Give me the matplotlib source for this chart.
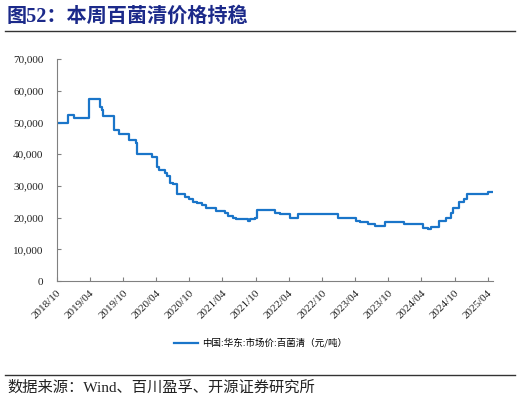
import matplotlib
matplotlib.use('Agg')
import matplotlib.pyplot as plt
import matplotlib.ticker as mticker
import pandas as pd

# Step-change dates and prices (元/吨)
dates = [
    '2018-10-01', '2018-12-01', '2019-01-07', '2019-03-28', '2019-05-26',
    '2019-06-07', '2019-06-14', '2019-08-13', '2019-09-07', '2019-11-01',
    '2019-12-12', '2019-12-15', '2020-03-10', '2020-04-07', '2020-04-16',
    '2020-05-19', '2020-06-01', '2020-06-16', '2020-07-01', '2020-07-26',
    '2020-09-07', '2020-10-01', '2020-10-20', '2020-11-12', '2020-12-08',
    '2021-01-01', '2021-02-25', '2021-04-18', '2021-05-03', '2021-05-27',
    '2021-06-15', '2021-08-22', '2021-09-01', '2021-09-28', '2021-10-10',
    '2022-01-16', '2022-02-14', '2022-04-09', '2022-05-24', '2022-12-28',
    '2023-04-06', '2023-04-29', '2023-06-14', '2023-07-21', '2023-09-15',
    '2023-12-28', '2024-04-09', '2024-05-10', '2024-05-23', '2024-07-10',
    '2024-08-16', '2024-09-12', '2024-09-21', '2024-10-28', '2024-11-21',
    '2024-12-09', '2025-04-06', '2025-04-28',
]
prices = [
    50000, 52500, 51500, 57500, 55000,
    54000, 52000, 47500, 46500, 44500,
    43500, 40000, 39000, 36000, 35000,
    34000, 33000, 31000, 30500, 27500,
    26500, 26000, 25000, 24500, 24000,
    23000, 22000, 21500, 20500, 20000,
    19500, 19000, 19500, 20000, 22500,
    21500, 21000, 20000, 21000, 20000,
    19000, 18500, 18000, 17500, 18500,
    18000, 16800, 16500, 17200, 19000,
    20000, 21500, 23000, 25000, 26000,
    27500, 28000, 28000,
]
tick_labels = ['2018/10', '2019/04', '2019/10', '2020/04', '2020/10', '2021/04',
               '2021/10', '2022/04', '2022/10', '2023/04', '2023/10', '2024/04',
               '2024/10', '2025/04']
series_name = '中国:华东:市场价:百菌清（元/吨）'
title = '图52：本周百菌清价格持稳'
source = '数据来源：Wind、百川盈孚、开源证券研究所'

serif = ['Liberation Serif', 'Noto Sans CJK SC']
cjk = ['Noto Sans CJK SC', 'DejaVu Sans']

x = pd.to_datetime(dates)
ticks = pd.to_datetime([t.replace('/', '-') + '-01' for t in tick_labels])

fig = plt.figure(figsize=(5.21, 4.05), dpi=100)
ax = fig.add_axes([0.1088, 0.306, 0.8375, 0.548])

line, = ax.plot(x, prices, drawstyle='steps-post', color='#1a75c9', lw=1.6)

ax.set_ylim(0, 70000)
ax.set_xlim(pd.Timestamp('2018-10-01'), pd.Timestamp('2025-05-01'))
ax.yaxis.set_major_locator(mticker.MultipleLocator(10000))
ax.yaxis.set_major_formatter(mticker.FuncFormatter(lambda v, p: f'{v:,.0f}'))
ax.set_xticks(ticks)
ax.set_xticklabels(tick_labels, rotation=45, ha='right', va='top',
                   rotation_mode='anchor')

for s in ['top', 'right']:
    ax.spines[s].set_visible(False)
for s in ['left', 'bottom']:
    ax.spines[s].set_color('#808080')
    ax.spines[s].set_linewidth(0.8)
ax.tick_params(axis='both', direction='in', length=3, color='#808080', width=0.8)
ax.tick_params(axis='y', pad=9.5)
ax.tick_params(axis='x', pad=5)
for lab in ax.get_xticklabels() + ax.get_yticklabels():
    lab.set_family(serif)
    lab.set_fontsize(8)
    lab.set_color('#222222')

leg = fig.legend([line], [series_name], loc='center', bbox_to_anchor=(0.5, 1 - 343 / 405),
                 frameon=False, prop={'family': cjk, 'size': 6.8},
                 handlelength=2.6, handletextpad=0.4)

fig.text(7 / 521, 1 - 16.5 / 405, title, fontsize=14.5, fontweight='bold',
         color='#1c2a8a', family=serif, ha='left', va='center')
fig.add_artist(plt.Line2D([5 / 521, 515 / 521], [1 - 31 / 405] * 2,
                          color='#333333', lw=1.0))
fig.add_artist(plt.Line2D([5 / 521, 515 / 521], [1 - 375 / 405] * 2,
                          color='#333333', lw=1.0))
fig.text(7 / 521, 1 - 388 / 405, source, fontsize=11, color='#222222',
         family=serif, ha='left', va='center')

fig.savefig('out.png', dpi=100)
